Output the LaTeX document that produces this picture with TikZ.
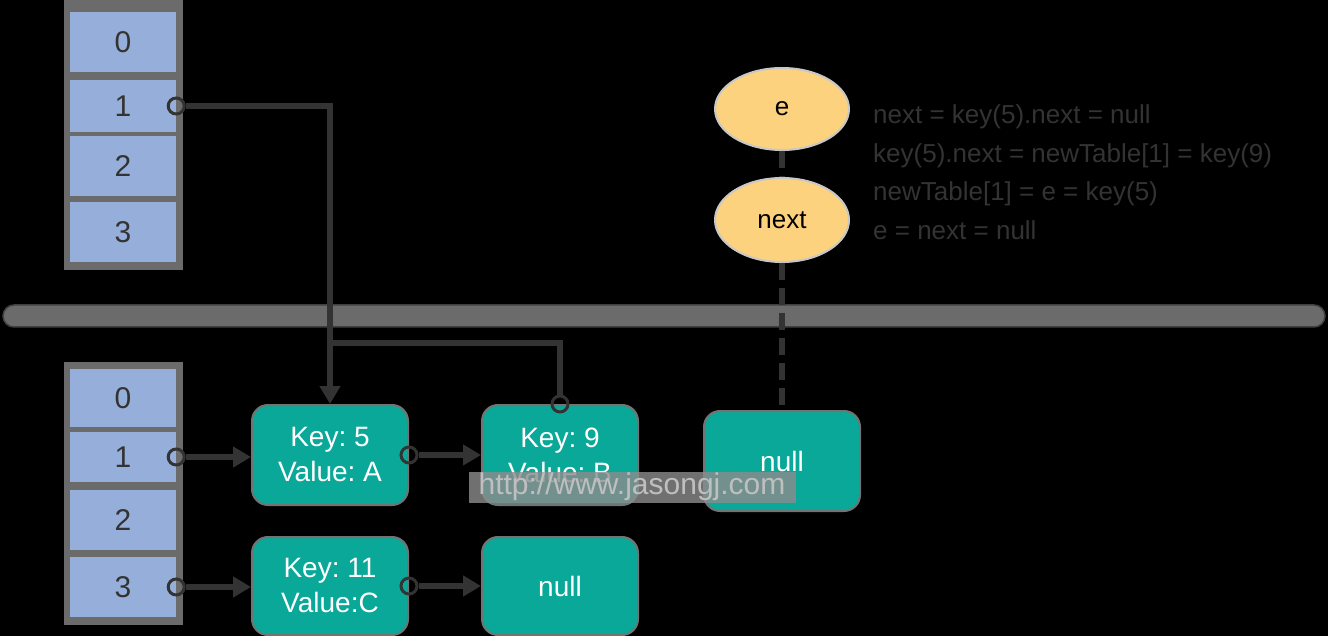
\documentclass[tikz,border=0pt]{standalone}
\usepackage{fontspec}
\setmainfont{Liberation Sans}
\usetikzlibrary{arrows.meta,shapes.geometric}
\frenchspacing

\definecolor{slotblue}{HTML}{96AFDA}
\definecolor{frameg}{HTML}{6B6B6B}
\definecolor{linkc}{HTML}{333333}
\definecolor{entryc}{HTML}{0AA898}
\definecolor{ptrc}{HTML}{FCD27E}

\tikzset{
  slot/.style={rectangle, fill=slotblue, minimum width=106, inner sep=0, text=linkc, font=\fontsize{30}{30}\selectfont},
  entry/.style={rectangle, rounded corners=16, fill=entryc, draw=black!55, line width=2, minimum width=156, minimum height=100, text=white, align=center, font=\fontsize{28}{35}\selectfont},
  ptr/.style={ellipse, fill=ptrc, draw=black!22, line width=2, minimum width=134, minimum height=82, inner sep=0, font=\fontsize{26}{26}\selectfont},
  port/.style={circle, draw=linkc, line width=3, minimum size=16, inner sep=0},
  link/.style={draw=linkc, line width=6},
  tip/.style={-{Triangle[length=18,width=20]}},
  dashline/.style={draw=linkc, line width=6, dash pattern=on 17 off 8},
  note/.style={anchor=west, inner sep=0, align=left, text=linkc, font=\fontsize{26}{38.5}\selectfont}
}

\begin{document}
\begin{tikzpicture}[x=1pt, y=-1pt]
	%%%%% START %%%%%
	\useasboundingbox[fill=black] (0,0) rectangle (1328,636);

	% separator
	\draw[fill=frameg, draw=black!75, line width=1.5, rounded corners=11] (3,305) rectangle (1325,327);

	% upper table
	\fill[frameg] (64,-2) rectangle (183,270);
	\node[slot, minimum height=60] (up0) at (123,42) {0};
	\node[slot, minimum height=52] (up1) at (123,106) {1};
	\node[slot, minimum height=60] (up2) at (123,166) {2};
	\node[slot, minimum height=60] (up3) at (123,232) {3};

	% lower table
	\fill[frameg] (64,362) rectangle (183,625);
	\node[slot, minimum height=58] (lo0) at (123,398) {0};
	\node[slot, minimum height=50] (lo1) at (123,457) {1};
	\node[slot, minimum height=60] (lo2) at (123,520) {2};
	\node[slot, minimum height=60] (lo3) at (123,587) {3};

	% entries
	\node[entry] (k5) at (330,455) {Key: 5\\Value: A};
	\node[entry] (k9) at (560,455) {Key: 9\\Value: B};
	\node[entry] (nullA) at (782,461) {null};
	\node[entry, minimum height=98] (k11) at (330,586) {Key: 11\\Value:C};
	\node[entry, minimum height=98] (nullB) at (560,586) {null};

	% pointers
	\node[ptr] (ptrE) at (782,109) {e};
	\node[ptr, minimum height=84] (ptrN) at (782,220) {next};
	\draw[dashline] (ptrE) -- (ptrN);
	\draw[dashline] (ptrN) -- (nullA);

	% links
	\node[port] (pu1) at (up1.east) {};
	\node[port] (pl1) at (lo1.east) {};
	\node[port] (pl3) at (lo3.east) {};
	\node[port] (pk5) at (k5.east) {};
	\node[port] (pk11) at (k11.east) {};
	\node[port] (pk9) at (k9.north) {};
	\coordinate (join) at (330,343);

	\draw[link, tip] (pu1.east) -| (k5.north);
	\draw[link] (pk9.north) |- (join);
	\draw[link, tip] (pl1.east) -- (pl1.east -| k5.west);
	\draw[link, tip] (pk5.east) -- (pk5.east -| k9.west);
	\draw[link, tip] (pl3.east) -- (pl3.east -| k11.west);
	\draw[link, tip] (pk11.east) -- (pk11.east -| nullB.west);

	% steps
	\node[note] (code) at (873,172) {next = key(5).next = null\\key(5).next = newTable[1] = key(9)\\newTable[1] = e = key(5)\\e = next = null};

	% watermark
	\node[fill=black!45, fill opacity=0.8, text opacity=1, text=black!25, inner sep=1, minimum width=327, minimum height=31, font=\fontsize{30}{30}\selectfont] (wm) at (632,487) {http://www.jasongj.com};
	%%%%% END %%%%%
\end{tikzpicture}
\end{document}
